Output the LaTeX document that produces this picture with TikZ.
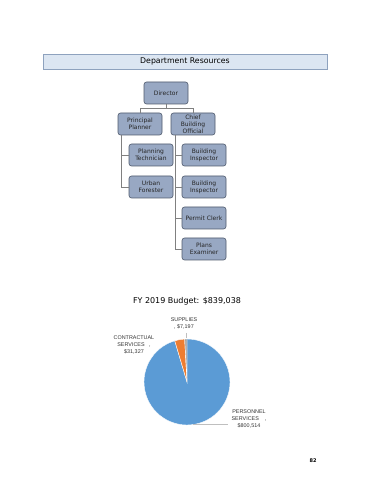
\documentclass[tikz,border=0pt]{standalone}
\usepackage{fontspec}
\setmainfont{DejaVu Sans}
\newfontfamily\lblfont{Liberation Sans}
\usepackage{tikz}

\definecolor{hdrfill}{HTML}{DCE6F2}
\definecolor{hdrline}{HTML}{8EA2BE}
\definecolor{boxfill}{HTML}{98A8C3}
\definecolor{boxline}{HTML}{4F5A6C}
\definecolor{linkc}{HTML}{808080}
\definecolor{persc}{HTML}{5B9BD5}
\definecolor{contc}{HTML}{ED7D31}
\definecolor{supc}{HTML}{A5A5A5}

\begin{document}
\begin{tikzpicture}[x=1pt,y=1pt,
  posbox/.style={draw=boxline, fill=boxfill, rounded corners=2.5pt, line width=0.6pt,
    minimum width=44pt, minimum height=22pt, inner sep=1pt, align=center,
    font=\fontsize{6}{7.2}\selectfont, text=black!85},
  link/.style={draw=linkc, line width=0.7pt},
  lbl/.style={font=\lblfont\fontsize{5.4}{7}\selectfont, text=black!80, align=center},
  lead/.style={draw=black!25, line width=0.4pt}]
  \useasboundingbox (0,0) rectangle (370,480);

  % header
  \node[draw=hdrline, fill=hdrfill, line width=0.6pt, minimum width=284pt,
    minimum height=15pt, inner sep=0pt, font=\fontsize{7.8}{9}\selectfont] (hdr) at (185,418.5) {Department Resources};

  % org chart
  \node[posbox] (dir) at (166,387) {Director};
  \node[posbox] (pp) at (140,356) {Principal\\Planner};
  \node[posbox] (cbo) at (193,356) {Chief\\Building\\Official};
  \node[posbox] (pt) at (151,325) {Planning\\Technician};
  \node[posbox] (bi1) at (204,325) {Building\\Inspector};
  \node[posbox] (uf) at (151,293) {Urban\\Forester};
  \node[posbox] (bi2) at (204,293) {Building\\Inspector};
  \node[posbox] (pc) at (204,262) {Permit Clerk};
  \node[posbox] (pe) at (204,231) {Plans\\Examiner};

  \coordinate (j) at (166,371.7);
  \draw[link] (dir.south) -- (j);
  \draw[link] (pp.north) |- (j) -| (cbo.north);
  \draw[link] (pp.south west) ++(4,0) coordinate (ls) -- (ls |- uf.west) -- (uf.west);
  \draw[link] (ls |- pt.west) -- (pt.west);
  \draw[link] (cbo.south west) ++(5,0) coordinate (rs) -- (rs |- pe.west) -- (pe.west);
  \draw[link] (rs |- bi1.west) -- (bi1.west);
  \draw[link] (rs |- bi2.west) -- (bi2.west);
  \draw[link] (rs |- pc.west) -- (pc.west);

  % budget pie
  \node[font=\fontsize{8}{10}\selectfont] (ttl) at (187,179) {FY 2019 Budget: \$839,038};
  \coordinate (pie) at (187,98);
  \fill[persc, draw=white, line width=0.4pt] (pie) -- ++(106.53:43) arc[start angle=106.53, end angle=450, radius=43] -- cycle;
  \fill[contc, draw=white, line width=0.4pt] (pie) -- ++(93.09:43) arc[start angle=93.09, end angle=106.53, radius=43] -- cycle;
  \fill[supc, draw=white, line width=0.4pt] (pie) -- ++(90:43) arc[start angle=90, end angle=93.09, radius=43] -- cycle;

  \node[lbl] (sup) at (184,156.5) {SUPPLIES\\, \$7,197};
  \node[lbl] (con) at (134,135) {CONTRACTUAL\\SERVICES\ \ \ ,\\\$31,327};
  \node[lbl] (per) at (249,61.5) {PERSONNEL\\SERVICES\ \ \ \ ,\\\$800,514};
  \coordinate (st) at (186,141.5);
  \draw[lead] (sup.south -| st) -- (st);
  \coordinate (pb) at (193,56);
  \draw[lead] (pb) -- (pb -| per.west);

  % page number
  \node[font=\bfseries\fontsize{5}{6}\selectfont] (pg) at (313,19) {82};
\end{tikzpicture}
\end{document}
